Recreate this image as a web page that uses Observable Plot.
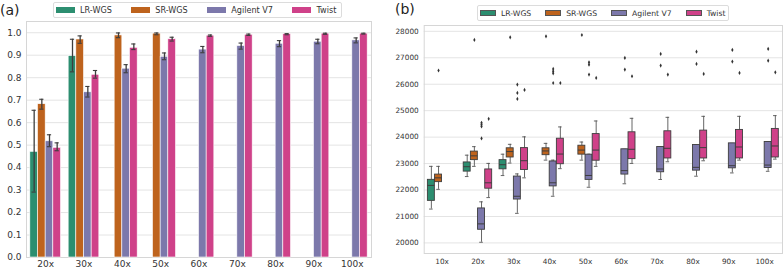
<!DOCTYPE html>
<html>
<head>
<meta charset="utf-8">
<script src="https://cdn.jsdelivr.net/npm/d3@7"></script>
<script src="https://cdn.jsdelivr.net/npm/@observablehq/plot@0.6"></script>
<style>
  body { margin: 0; background: #fff; font-family: "DejaVu Sans", sans-serif; }
  #wrap { position: relative; width: 784px; height: 270px; overflow: hidden; background: #fff; }
  .panel { position: absolute; top: 0; }
  .tag { position: absolute; font-size: 14px; color: #222; line-height: 1; }
  .legend { position: absolute; display: flex; align-items: center; border: 1px solid #dcdcdc; border-radius: 2px; background: #fff; box-sizing: border-box; color: #333; }
  .legend .item { display: flex; align-items: center; }
  .legend .sw { display: inline-block; box-sizing: border-box; }
</style>
</head>
<body>
<div id="wrap"></div>
<script>
// ---------- shared ----------
const series = ["LR-WGS", "SR-WGS", "Agilent V7", "Twist"];
const colors = ["#2c8e70", "#be631d", "#7c78ab", "#cf4189"];

// ---------- panel (a): fraction, mean with error range ----------
const coverageA = ["20x", "30x", "40x", "50x", "60x", "70x", "80x", "90x", "100x"];
const yTicksA = [0.0, 0.1, 0.2, 0.3, 0.4, 0.5, 0.6, 0.7, 0.8, 0.9, 1.0];

const lrMean = [0.470, 0.896, null, null, null, null, null, null, null];
const lrLow  = [0.291, 0.826, null, null, null, null, null, null, null];
const lrHigh = [0.655, 0.971, null, null, null, null, null, null, null];

const srMean = [0.682, 0.970, 0.988, 0.996, null, null, null, null, null];
const srLow  = [0.660, 0.953, 0.978, 0.991, null, null, null, null, null];
const srHigh = [0.704, 0.986, 0.999, 0.999, null, null, null, null, null];

const agMean = [0.517, 0.735, 0.840, 0.893, 0.925, 0.941, 0.951, 0.960, 0.966];
const agLow  = [0.493, 0.714, 0.822, 0.880, 0.911, 0.927, 0.938, 0.951, 0.955];
const agHigh = [0.546, 0.761, 0.858, 0.910, 0.939, 0.954, 0.965, 0.971, 0.977];

const twMean = [0.488, 0.813, 0.933, 0.971, 0.987, 0.991, 0.994, 0.996, 0.996];
const twLow  = [0.475, 0.798, 0.925, 0.963, 0.984, 0.988, 0.991, 0.993, 0.994];
const twHigh = [0.510, 0.832, 0.950, 0.980, 0.990, 0.994, 0.996, 0.998, 0.998];

// ---------- panel (b): box statistics ----------
const coverageB = ["10x", "20x", "30x", "40x", "50x", "60x", "70x", "80x", "90x", "100x"];
const yTicksB = [20000, 21000, 22000, 23000, 24000, 25000, 26000, 27000, 28000];

const lrQ1  = [21590, 22696, 22783, null, null, null, null, null, null, null];
const lrMed = [22174, 22882, 22957, null, null, null, null, null, null, null];
const lrQ3  = [22385, 23043, 23130, null, null, null, null, null, null, null];
const lrWLo = [21280, 22509, 22547, null, null, null, null, null, null, null];
const lrWHi = [22894, 23317, 23354, null, null, null, null, null, null, null];
const lrOut = [[], [], [], [], [], [], [], [], [], []];

const srQ1  = [22298, 23130, 23230, 23317, 23338, null, null, null, null, null];
const srMed = [22460, 23292, 23453, 23478, 23510, null, null, null, null, null];
const srQ3  = [22584, 23453, 23578, 23578, 23675, null, null, null, null, null];
const srWLo = [22025, 22894, 23019, 23130, 23130, null, null, null, null, null];
const srWHi = [22894, 23640, 23727, 23764, 23814, null, null, null, null, null];
const srOut = [[26520], [27675], [27773], [27810], [27860], [], [], [], [], []];

const agQ1  = [null, 20497, 21640, 22137, 22383, 22584, 22671, 22733, 22820, 22832];
const agMed = [null, 20720, 21764, 22273, 22550, 22733, 22795, 22857, 22919, 22944];
const agQ3  = [null, 21304, 22509, 23080, 23335, 23540, 23627, 23702, 23764, 23814];
const agWLo = [null, 20025, 21118, 21764, 22105, 22236, 22398, 22522, 22646, 22708];
const agWHi = [null, 21553, 22609, 23130, 23354, 23540, 23627, 23702, 23764, 23814];
const agOut = [[], [24540, 24470, 24400, 23950], [25985, 25671, 25444], [26578, 26488, 26412, 26047],
               [26828, 26740, 26363], [26994, 26552], [27145, 26703], [27232, 26767], [27296, 26855], [27335, 26892]];

const twQ1  = [null, 22050, 22758, 22975, 23108, 23168, 23193, 23193, 23193, 23230];
const twMed = [null, 22273, 23108, 23360, 23510, 23540, 23578, 23603, 23627, 23665];
const twQ3  = [null, 22778, 23585, 23940, 24115, 24183, 24221, 24246, 24272, 24310];
const twWLo = [null, 21714, 22460, 22808, 22894, 23006, 23068, 23106, 23130, 23168];
const twWHi = [null, 23006, 24010, 24385, 24610, 24711, 24748, 24786, 24786, 24813];
const twOut = [[], [24690], [25785], [26047], [26238], [26300], [26363], [26390], [26427], [26450]];

// ---------- dodge layout (seaborn-style: group width 0.8 of each category, 4 hue slots) ----------
const slot = 0.8 / series.length;
const dodge = k => -0.4 + slot * (k + 0.5);

// ---------- build tables ----------
const rowsA = [];
const barSets = [[lrMean, lrLow, lrHigh], [srMean, srLow, srHigh], [agMean, agLow, agHigh], [twMean, twLow, twHigh]];
coverageA.forEach((c, i) => {
  barSets.forEach(([m, lo, hi], k) => {
    if (m[i] != null) rowsA.push({i, c: i + dodge(k), cov: c, s: series[k], v: m[i], lo: lo[i], hi: hi[i]});
  });
});

const rowsB = [], outB = [];
const boxSets = [
  [lrQ1, lrMed, lrQ3, lrWLo, lrWHi, lrOut],
  [srQ1, srMed, srQ3, srWLo, srWHi, srOut],
  [agQ1, agMed, agQ3, agWLo, agWHi, agOut],
  [twQ1, twMed, twQ3, twWLo, twWHi, twOut]
];
coverageB.forEach((c, i) => {
  boxSets.forEach(([q1, med, q3, wlo, whi, out], k) => {
    const ctr = i + dodge(k);
    if (q1[i] != null) rowsB.push({i, c: ctr, cov: c, s: series[k], q1: q1[i], med: med[i], q3: q3[i], wlo: wlo[i], whi: whi[i]});
    out[i].forEach(v => outB.push({i, c: ctr, cov: c, s: series[k], v}));
  });
});

const ink = "#3d3d3d";
const gridColor = "#e4e4e4";
const frameColor = "#d6d6d6";
const half = slot / 2;

// ---------- plot (a) ----------
const capA = 0.055;
const plotA = Plot.plot({
  width: 392, height: 270,
  marginLeft: 26, marginRight: 21, marginTop: 21, marginBottom: 13,
  style: {fontFamily: "DejaVu Sans, sans-serif", fontSize: "9px", color: "#333", background: "transparent", overflow: "visible"},
  x: {domain: [-0.5, coverageA.length - 0.5], ticks: d3.range(coverageA.length), tickFormat: i => coverageA[i], tickSize: 0, tickPadding: 3.5, label: null},
  y: {domain: [0, 1.05], ticks: yTicksA, tickFormat: d => d.toFixed(1), tickSize: 0, tickPadding: 5, label: null},
  color: {domain: series, range: colors},
  marks: [
    Plot.gridY(yTicksA, {stroke: gridColor, strokeOpacity: 1, strokeWidth: 1}),
    Plot.frame({stroke: frameColor, strokeWidth: 1}),
    Plot.rectY(rowsA, {x1: d => d.c - half, x2: d => d.c + half, y1: 0, y2: "v", fill: "s", stroke: "white", strokeWidth: 0.6}),
    Plot.ruleX(rowsA, {x: "c", y1: "lo", y2: "hi", stroke: ink, strokeWidth: 1.3}),
    Plot.ruleY(rowsA, {y: "lo", x1: d => d.c - capA, x2: d => d.c + capA, stroke: ink, strokeWidth: 1.1}),
    Plot.ruleY(rowsA, {y: "hi", x1: d => d.c - capA, x2: d => d.c + capA, stroke: ink, strokeWidth: 1.1})
  ]
});

// ---------- plot (b) ----------
const thinDiamond = {
  draw(ctx, size) {
    const h = Math.sqrt(size) * 0.9, w = h * 0.55;
    ctx.moveTo(0, -h); ctx.lineTo(w, 0); ctx.lineTo(0, h); ctx.lineTo(-w, 0); ctx.closePath();
  }
};
const capB = 0.05;
const boxHalf = half * 0.97;

const plotB = Plot.plot({
  width: 392, height: 270,
  marginLeft: 31.7, marginRight: 2, marginTop: 25, marginBottom: 17,
  style: {fontFamily: "DejaVu Sans, sans-serif", fontSize: "7.3px", color: "#333", background: "transparent", overflow: "visible"},
  x: {domain: [-0.5, coverageB.length - 0.5], ticks: d3.range(coverageB.length), tickFormat: i => coverageB[i], tickSize: 0, tickPadding: 5.5, label: null},
  y: {domain: [19600, 28220], ticks: yTicksB, tickFormat: d => String(d), tickSize: 0, tickPadding: 5.5, label: null},
  color: {domain: series, range: colors},
  marks: [
    Plot.gridY(yTicksB, {stroke: gridColor, strokeOpacity: 1, strokeWidth: 1}),
    Plot.frame({stroke: frameColor, strokeWidth: 1}),
    Plot.ruleX(rowsB, {x: "c", y1: "wlo", y2: "q1", stroke: "#555", strokeWidth: 0.9}),
    Plot.ruleX(rowsB, {x: "c", y1: "q3", y2: "whi", stroke: "#555", strokeWidth: 0.9}),
    Plot.ruleY(rowsB, {y: "wlo", x1: d => d.c - capB, x2: d => d.c + capB, stroke: "#555", strokeWidth: 0.9}),
    Plot.ruleY(rowsB, {y: "whi", x1: d => d.c - capB, x2: d => d.c + capB, stroke: "#555", strokeWidth: 0.9}),
    Plot.rect(rowsB, {x1: d => d.c - boxHalf, x2: d => d.c + boxHalf, y1: "q1", y2: "q3", fill: "s", stroke: ink, strokeWidth: 0.9}),
    Plot.ruleY(rowsB, {y: "med", x1: d => d.c - boxHalf, x2: d => d.c + boxHalf, stroke: ink, strokeWidth: 1}),
    Plot.dot(outB, {x: "c", y: "v", r: 1.3, symbol: thinDiamond, fill: "#333", stroke: "none"})
  ]
});

// ---------- assemble ----------
const wrap = document.getElementById("wrap");
const pa = document.createElement("div"); pa.className = "panel"; pa.style.left = "0px"; pa.appendChild(plotA);
const pb = document.createElement("div"); pb.className = "panel"; pb.style.left = "392px"; pb.appendChild(plotB);
wrap.appendChild(pa); wrap.appendChild(pb);

function addTag(text, left, top) {
  const t = document.createElement("div");
  t.className = "tag"; t.textContent = text;
  t.style.left = left + "px"; t.style.top = top + "px";
  wrap.appendChild(t);
}
addTag("(a)", 0, 3);
addTag("(b)", 395, 2);

function addLegend(opts) {
  const lg = document.createElement("div");
  lg.className = "legend";
  Object.assign(lg.style, {left: opts.left + "px", top: opts.top + "px", width: opts.width + "px", height: opts.height + "px",
    paddingLeft: opts.padLeft + "px", fontSize: opts.fontSize + "px"});
  series.forEach((s, k) => {
    const it = document.createElement("div");
    it.className = "item";
    if (k < series.length - 1) it.style.marginRight = opts.gap + "px";
    const sw = document.createElement("span");
    sw.className = "sw";
    Object.assign(sw.style, {width: opts.swW + "px", height: opts.swH + "px", background: colors[k], marginRight: opts.swGap + "px",
      border: opts.swBorder});
    const tx = document.createElement("span");
    tx.textContent = s;
    it.appendChild(sw); it.appendChild(tx);
    lg.appendChild(it);
  });
  wrap.appendChild(lg);
}
addLegend({left: 53, top: 2, width: 289, height: 16, padLeft: 2, fontSize: 8.1, gap: 19.5, swW: 19, swH: 6.5, swGap: 5, swBorder: "none"});
addLegend({left: 477, top: 5, width: 252, height: 16, padLeft: 2, fontSize: 7.7, gap: 14, swW: 16, swH: 6, swGap: 5, swBorder: "0.8px solid #555"});
</script>
</body>
</html>
